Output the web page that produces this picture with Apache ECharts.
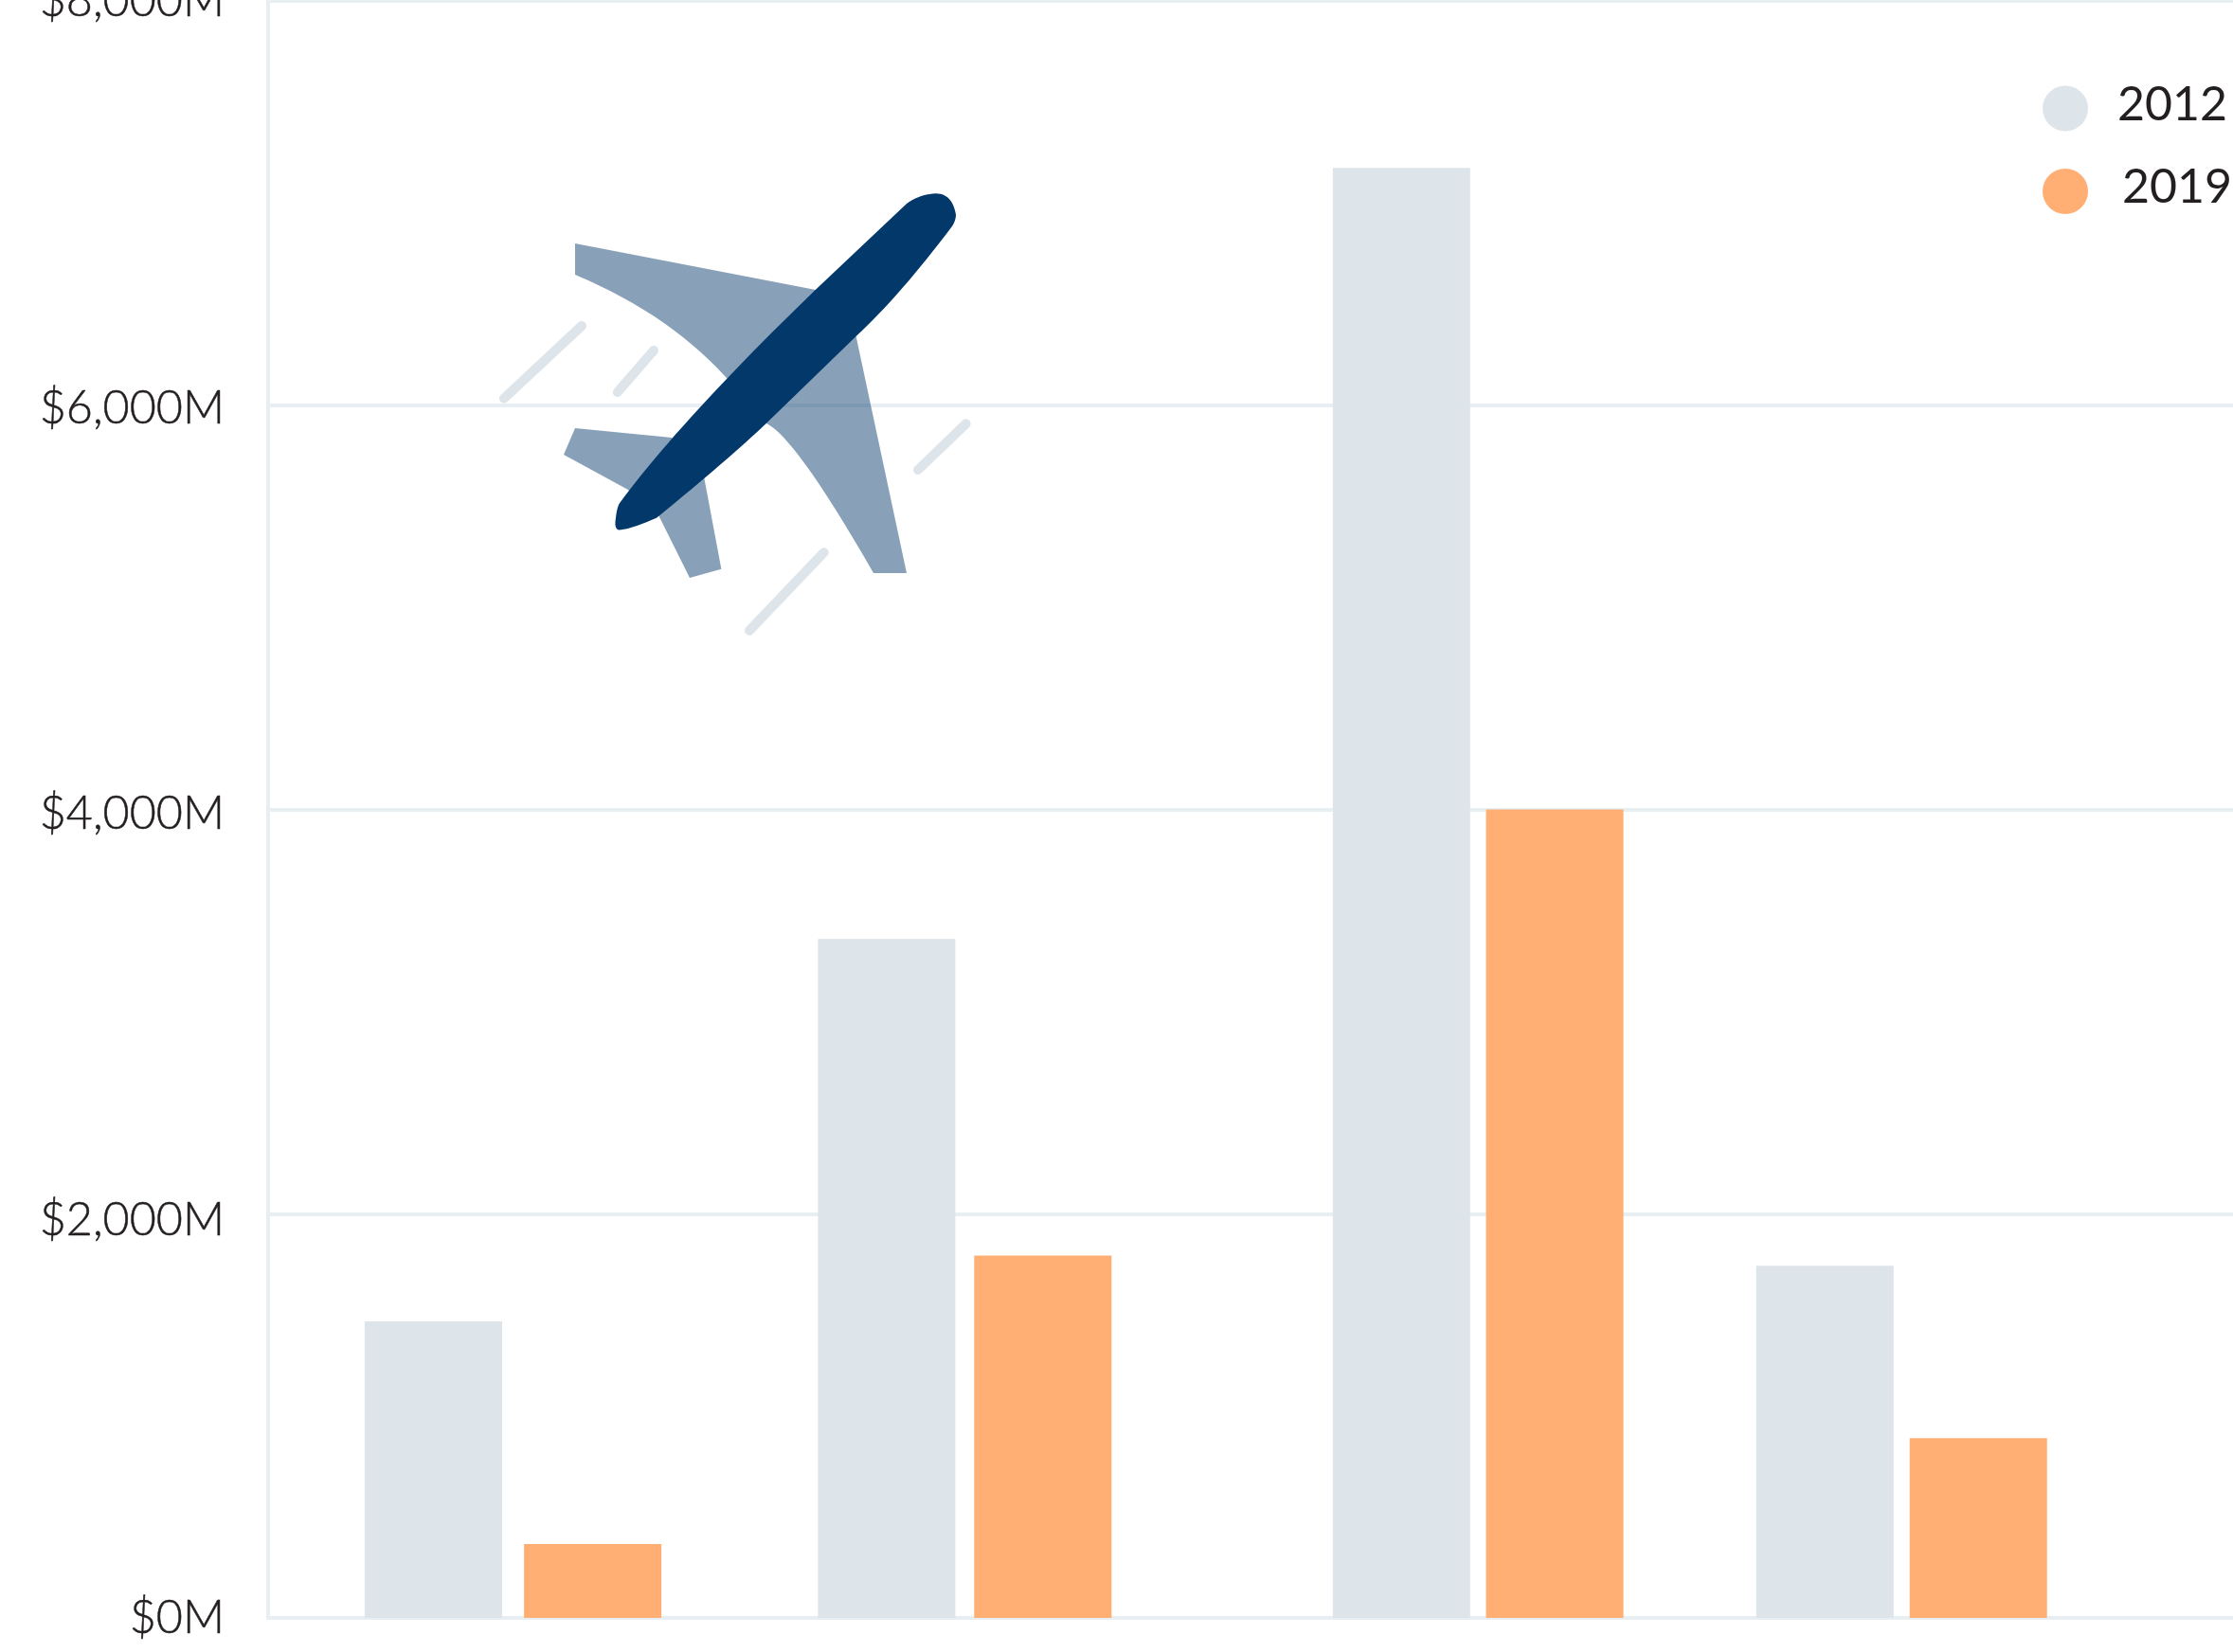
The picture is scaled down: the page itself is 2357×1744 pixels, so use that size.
<!DOCTYPE html>
<html>
<head>
<meta charset="utf-8">
<style>html,body{margin:0;padding:0;background:#fff;overflow:hidden}#chart{width:2357px;height:1744px}</style>
<script src="https://cdn.jsdelivr.net/npm/echarts@6/dist/echarts.min.js"></script>
</head>
<body>
<div id="chart"></div>
<script>
// Chart values ($M), one entry per unlabelled group
const seriesNames = ['2012', '2019'];
const values2012 = [1467, 3359, 7174, 1742];
const values2019 = [366, 1793, 4000, 889];
const yTicks = { min: 0, max: 8000, interval: 2000 };

// Where each bar stands along the unlabelled, unevenly spaced x axis (0-100)
const slots2012 = [8.41, 31.48, 57.68, 79.23];
const slots2019 = [16.52, 39.43, 65.48, 87.04];

const GRID = '#e8eff2', GREY = '#dde4ea', ORANGE = '#ffaf73', INK = '#231f20', NAVY = '#03386b';
const FONT = 'Lato, "Open Sans", sans-serif';

// Decorative plane outline helper: quadratic curve samples
function quad(a, c, b, steps) {
  const out = [];
  for (let k = 0; k <= steps; k++) {
    const t = k / steps, u = 1 - t;
    out.push([u * u * a[0] + 2 * u * t * c[0] + t * t * b[0], u * u * a[1] + 2 * u * t * c[1] + t * t * b[1]]);
  }
  return out;
}

const wing = [[607, 257], [861, 306], [903.6, 355], [957, 605]]
  .concat(quad([922, 605], [840, 462], [809, 447], 24))
  .concat(quad([766, 398], [705, 331], [607, 290], 24));
const tail = [[607, 452], [709, 462], [743, 503], [761.4, 600.7], [728, 610], [694.6, 543], [662.5, 516.7], [595, 480]];
const body = [].concat(
  quad([653.6, 531.7], [718, 444], [860.7, 306], 24),
  quad([957, 215], [971, 205], [987.5, 204.3], 10),
  quad([987.5, 204.3], [1005, 204], [1009, 226.7], 12),
  quad([1009, 226.7], [1009, 232], [1005.4, 238.3], 6),
  quad([1005.4, 238.3], [950, 312], [903.6, 355], 16),
  quad([809, 446.7], [770, 484], [693, 546.7], 16),
  quad([693, 546.7], [665, 559], [653, 559.5], 10),
  quad([653, 559.5], [648, 558], [650, 546.7], 6),
  quad([650, 546.7], [651, 537], [653.6, 531.7], 6)
);
const streaks = [
  [532, 420.7, 614, 344], [651.8, 414, 690, 370], [969, 496, 1019.6, 447.3], [791, 665.7, 869.6, 583.3]
];

const pair = (xs, ys) => xs.map((x, i) => [x, ys[i]]);
const barSeries = (name, xs, ys, color) => ({
  name, type: 'bar', data: pair(xs, ys), barWidth: 145, barGap: '-100%',
  itemStyle: { color }, emphasis: { disabled: true }, animation: false, z: 2
});
const tickText = pad => ({
  fontFamily: FONT, fontSize: 48.5, fontWeight: 300, color: INK,
  textBorderColor: INK, textBorderWidth: 0.5, padding: [pad, 0, 0, 0]
});

const chart = echarts.init(document.getElementById('chart'), null, { renderer: 'canvas' });
chart.setOption({
  animation: false,
  backgroundColor: '#fff',
  grid: { left: 283, right: 0, top: 1, bottom: 36, containLabel: false, outerBoundsMode: 'none' },
  xAxis: {
    type: 'value', min: 0, max: 100,
    axisLine: { show: true, onZero: false, lineStyle: { color: GRID, width: 4 } },
    axisTick: { show: false }, axisLabel: { show: false }, splitLine: { show: false }
  },
  yAxis: {
    type: 'value', min: yTicks.min, max: yTicks.max, interval: yTicks.interval,
    axisLine: { show: true, lineStyle: { color: GRID, width: 4 } },
    axisTick: { show: false },
    splitLine: { show: true, lineStyle: { color: GRID, width: 4 } },
    axisLabel: {
      margin: 46, showMinLabel: true, showMaxLabel: true,
      formatter: v => `{t${v}|$${v.toLocaleString('en-US')}M}`,
      rich: {
        t0: tickText(0), t2000: tickText(14), t4000: tickText(10), t6000: tickText(8), t8000: tickText(0)
      }
    }
  },
  legend: {
    data: seriesNames, orient: 'vertical', left: 2156, top: 86, padding: 0,
    itemWidth: 48, itemHeight: 48, itemGap: 34, icon: 'circle', align: 'left', itemStyle: { borderWidth: 0 },
    formatter: name => `{y${name}|${name}}`,
    textStyle: {
      color: INK, fontFamily: FONT, fontSize: 50,
      rich: {
        y2012: { fontFamily: FONT, fontSize: 50, color: INK, padding: [0, 0, 7, 26] },
        y2019: { fontFamily: FONT, fontSize: 50, color: INK, padding: [0, 0, 9, 31] }
      }
    },
    selectedMode: false
  },
  tooltip: { show: false },
  series: [
    barSeries(seriesNames[0], slots2012, values2012, GREY),
    barSeries(seriesNames[1], slots2019, values2019, ORANGE)
  ],
  graphic: {
    elements: [
      ...streaks.map(s => ({
        type: 'line', z: 50, silent: true,
        shape: { x1: s[0], y1: s[1], x2: s[2], y2: s[3] },
        style: { stroke: GREY, lineWidth: 10, lineCap: 'round' }
      })),
      { type: 'polygon', z: 51, silent: true, shape: { points: tail }, style: { fill: NAVY, opacity: 0.47 } },
      { type: 'polygon', z: 51, silent: true, shape: { points: wing }, style: { fill: NAVY, opacity: 0.47 } },
      { type: 'polygon', z: 52, silent: true, shape: { points: body }, style: { fill: NAVY } }
    ]
  }
});
</script>
</body>
</html>
